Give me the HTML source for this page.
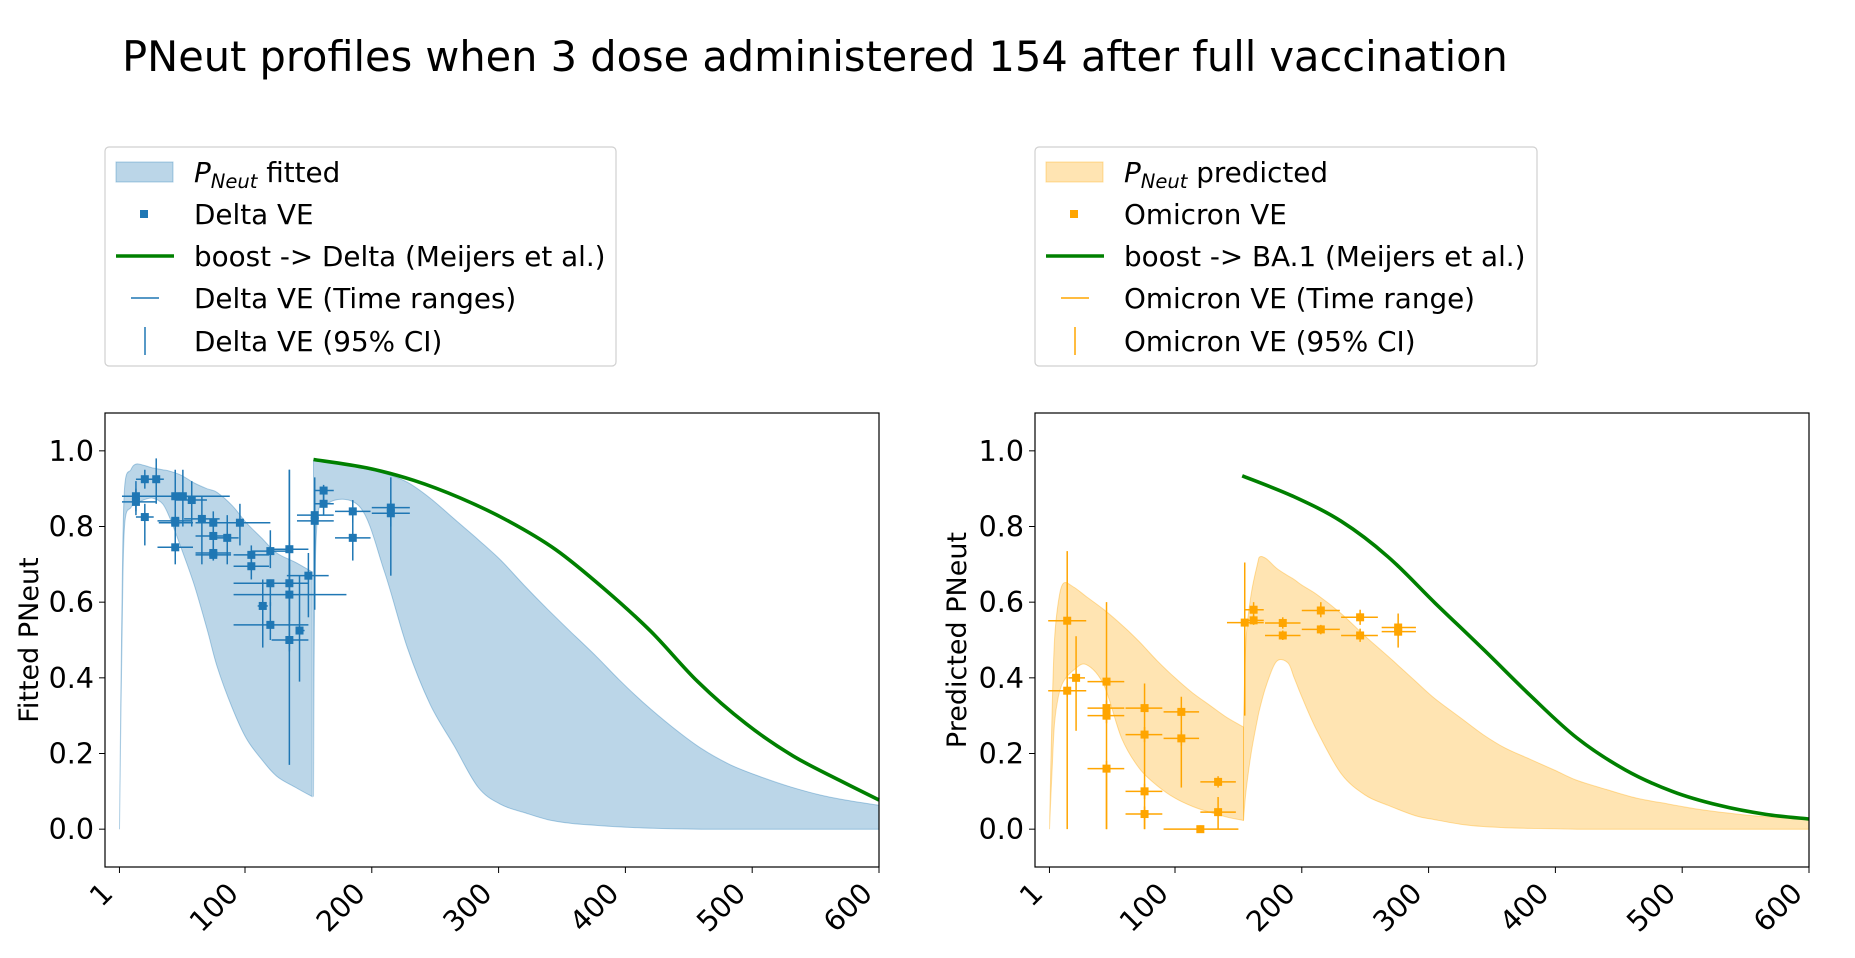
<!DOCTYPE html>
<html><head><meta charset="utf-8"><style>
html,body{margin:0;padding:0;background:#fff;}
svg{display:block;font-family:"DejaVu Sans","Liberation Sans",sans-serif;}
</style></head><body>
<svg id="c" width="1855" height="958" viewBox="0 0 1855 958" xmlns="http://www.w3.org/2000/svg">
<text x="815" y="71" font-size="41.5" text-anchor="middle">PNeut profiles when 3 dose administered 154 after full vaccination</text>
</svg>
<script>
// ---- data ----
const xTicks = [1,100,200,300,400,500,600];
const yTicks = [0.0,0.2,0.4,0.6,0.8,1.0];
// Delta fitted band
const dBand1X = [1,3,5,10,14,20,27,35,41,50,60,70,78,90,101,113,125,140,153];
const dBand1Hi = [0,0.6,0.9,0.95,0.965,0.962,0.955,0.95,0.946,0.935,0.915,0.9,0.89,0.855,0.81,0.77,0.73,0.705,0.68];
const dBand1Lo = [0,0.5,0.8,0.85,0.86,0.87,0.875,0.86,0.82,0.74,0.645,0.53,0.43,0.32,0.24,0.185,0.14,0.11,0.086];
const dBand2X = [154,156,165,191,210,228,246,265,284,302,320,339,358,377,395,414,437,460,483,507,530,554,577,600];
const dBand2Hi = [0.975,0.976,0.972,0.955,0.94,0.917,0.875,0.82,0.765,0.71,0.645,0.58,0.518,0.457,0.395,0.335,0.27,0.213,0.17,0.138,0.112,0.09,0.075,0.063];
const dBand2Lo = [0.086,0.76,0.86,0.85,0.68,0.48,0.33,0.22,0.11,0.065,0.044,0.025,0.015,0.01,0.006,0.003,0.001,0,0,0,0,0,0,0];
const dGreenX = [154,196,233,270,308,345,383,420,457,495,532,569,600];
const dGreenY = [0.977,0.955,0.922,0.875,0.814,0.739,0.636,0.523,0.39,0.279,0.194,0.129,0.077];
// Delta VE points: x, y, x-range, y-range
const dX  = [14,14,21,30,21,45,51,58,45,45,45,66,75,75,75,75,86,96,105,105,120,120,114,120,135,135,135,135,143,150,155,155,162,162,185,185,215,215];
const dY  = [0.88,0.865,0.925,0.925,0.825,0.88,0.88,0.87,0.815,0.81,0.745,0.82,0.81,0.775,0.73,0.725,0.77,0.81,0.725,0.695,0.735,0.65,0.59,0.54,0.74,0.65,0.62,0.50,0.525,0.67,0.83,0.815,0.895,0.86,0.84,0.77,0.85,0.835];
const dXlo= [3,3,14,24,14,35,40,45,31,32,31,52,61,61,61,61,76,70,91,91,105,91,110,91,121,121,91,121,140,133,141,141,155,155,171,171,200,200];
const dXhi= [88,30,28,36,28,55,62,70,58,59,59,80,89,89,89,89,95,120,119,119,135,150,118,150,150,150,180,150,147,166,170,170,170,170,199,199,230,230];
const dYlo= [0.84,0.83,0.90,0.86,0.75,0.81,0.80,0.80,0.76,0.79,0.70,0.70,0.76,0.73,0.71,0.71,0.70,0.75,0.70,0.66,0.69,0.59,0.48,0.50,0.66,0.47,0.55,0.17,0.39,0.56,0.58,0.79,0.87,0.83,0.81,0.71,0.67,0.80];
const dYhi= [0.92,0.90,0.95,0.98,0.86,0.95,0.95,0.92,0.86,0.83,0.80,0.88,0.84,0.81,0.76,0.74,0.83,0.86,0.75,0.72,0.79,0.66,0.66,0.60,0.79,0.95,0.70,0.95,0.67,0.73,0.93,0.84,0.91,0.89,0.87,0.83,0.93,0.87];
// Omicron predicted band
const oBand1X = [1,3,5,8,12,20,30,44,58,72,86,100,114,128,141,154];
const oBand1Hi = [0,0.3,0.5,0.6,0.65,0.64,0.615,0.58,0.54,0.495,0.445,0.40,0.36,0.326,0.295,0.27];
const oBand1Lo = [0,0.15,0.28,0.35,0.39,0.42,0.435,0.38,0.24,0.16,0.115,0.082,0.06,0.044,0.032,0.023];
const oBand2X = [154,156,160,165,167,172,180,189,194,200,212,231,250,268,290,305,325,343,360,380,400,417,440,464,490,510,535,557,580,600];
const oBand2Hi = [0.27,0.5,0.62,0.7,0.72,0.715,0.69,0.67,0.66,0.645,0.62,0.57,0.51,0.457,0.39,0.345,0.295,0.25,0.215,0.185,0.155,0.129,0.105,0.082,0.066,0.054,0.043,0.035,0.03,0.025];
const oBand2Lo = [0.023,0.1,0.2,0.29,0.32,0.38,0.443,0.44,0.4,0.35,0.26,0.147,0.09,0.063,0.035,0.025,0.013,0.007,0.004,0.002,0.001,0,0,0,0,0,0,0,0,0];
const oGreenX = [153,193,231,268,305,343,380,417,455,492,529,566,600];
const oGreenY = [0.934,0.88,0.814,0.72,0.598,0.476,0.354,0.241,0.157,0.1,0.063,0.039,0.027];
const oX  = [15,15,22,46,46,46,46,76,76,76,76,105,105,120,134,134,155,162,162,185,185,215,215,246,246,276,276];
const oY  = [0.551,0.366,0.40,0.39,0.32,0.30,0.16,0.32,0.25,0.10,0.04,0.31,0.24,0.0,0.125,0.045,0.546,0.58,0.552,0.545,0.512,0.578,0.528,0.56,0.512,0.533,0.522];
const oXlo= [0,0,16,31,31,31,31,61,61,61,61,91,91,91,120,120,141,155,155,171,171,200,200,231,231,263,263];
const oXhi= [30,30,29,60,60,60,60,90,90,90,90,119,119,150,148,148,170,170,170,199,199,230,230,260,260,290,290];
const oYlo= [0.0,0.35,0.26,0.0,0.3,0.28,0.0,0.0,0.23,0.08,0.0,0.11,0.22,0.0,0.11,0.0,0.30,0.56,0.54,0.53,0.5,0.56,0.515,0.54,0.495,0.48,0.51];
const oYhi= [0.735,0.38,0.51,0.60,0.34,0.32,0.18,0.385,0.27,0.12,0.06,0.35,0.26,0.01,0.14,0.085,0.705,0.60,0.565,0.56,0.525,0.60,0.54,0.58,0.53,0.57,0.54];

const NS='http://www.w3.org/2000/svg';
const svg=document.getElementById('c');
function mk(tag,attrs,parent){const e=document.createElementNS(NS,tag);for(const k in attrs)e.setAttribute(k,attrs[k]);(parent||svg).appendChild(e);return e;}
function smooth(pts){
  let d='';
  for(let i=0;i<pts.length-1;i++){
    const p0=pts[Math.max(i-1,0)],p1=pts[i],p2=pts[i+1],p3=pts[Math.min(i+2,pts.length-1)];
    const c1=[p1[0]+(p2[0]-p0[0])/6,p1[1]+(p2[1]-p0[1])/6];
    const c2=[p2[0]-(p3[0]-p1[0])/6,p2[1]-(p3[1]-p1[1])/6];
    d+='C'+c1[0].toFixed(1)+','+c1[1].toFixed(1)+' '+c2[0].toFixed(1)+','+c2[1].toFixed(1)+' '+p2[0].toFixed(1)+','+p2[1].toFixed(1);
  }
  return d;
}

function drawPanel(P){
  const X0=P.x0,X1=P.x0+774,Y0=413,Y1=867;
  const xs=v=>X0+(v+10.4)/(610.4)*(X1-X0);
  const ys=v=>Y1-(v+0.1)/1.2*(Y1-Y0);
  const g=mk('g',{});
  
  
  function band(xa,hi,lo,nm){
    const up=xa.map((x,i)=>[xs(x),ys(hi[i])]);
    const dn=xa.map((x,i)=>[xs(x),ys(lo[i])]).reverse();
    const d='M'+up[0][0].toFixed(1)+','+up[0][1].toFixed(1)+smooth(up)+'L'+dn[0][0].toFixed(1)+','+dn[0][1].toFixed(1)+smooth(dn)+'Z';
    const p=mk('path',{d:d,fill:P.fill,'fill-opacity':0.3,stroke:P.fill,'stroke-opacity':0.35,'stroke-width':1},g);
    
    
  }
  band(P.b1x,P.b1h,P.b1l,P.name+'-band-phase1');
  band(P.b2x,P.b2h,P.b2l,P.name+'-band-phase2');
  for(let i=0;i<P.px.length;i++){
    const h=mk('line',{x1:xs(P.xlo[i]),x2:xs(P.xhi[i]),y1:ys(P.py[i]),y2:ys(P.py[i]),stroke:P.col,'stroke-width':1.5},g);
    
    
    const v=mk('line',{x1:xs(P.px[i]),x2:xs(P.px[i]),y1:ys(P.ylo[i]),y2:ys(P.yhi[i]),stroke:P.col,'stroke-width':1.5},g);
    
    
    const r=mk('rect',{x:xs(P.px[i])-4,y:ys(P.py[i])-4,width:8,height:8,fill:P.col},g);
    
    
  }
  const gp=P.gx.map((x,i)=>[xs(x),ys(P.gy[i])]);
  const gl=mk('path',{d:'M'+gp[0][0].toFixed(1)+','+gp[0][1].toFixed(1)+smooth(gp),fill:'none',stroke:'#008000','stroke-width':3.6},g);
  
  
  const fr=mk('rect',{x:X0,y:Y0,width:X1-X0,height:Y1-Y0,fill:'none',stroke:'#000','stroke-width':1.2},g);
  
  
  yTicks.forEach(t=>{
    mk('line',{x1:X0-6,x2:X0,y1:ys(t),y2:ys(t),stroke:'#000','stroke-width':1},g);
    const tx=mk('text',{x:X0-11,y:ys(t)+10,'font-size':28.5,'text-anchor':'end'},g);
    tx.textContent=t.toFixed(1);
    
    
  });
  xTicks.forEach(t=>{
    mk('line',{x1:xs(t),x2:xs(t),y1:Y1,y2:Y1+6,stroke:'#000','stroke-width':1},g);
    const px=xs(t)-5,py=Y1+28;
    const tx=mk('text',{x:px,y:py,'font-size':28.5,'text-anchor':'end',transform:'rotate(-45 '+px+' '+py+')'},g);
    tx.textContent=t;
    
    
  });
  const yl=mk('text',{x:P.ylx,y:(Y0+Y1)/2,'font-size':27,'text-anchor':'middle',transform:'rotate(-90 '+P.ylx+' '+(Y0+Y1)/2+')'},g);
  yl.textContent=P.ylabel;
  
  
  const L=mk('g',{},g);
  
  
  const lx=P.x0, lw=P.lw;
  mk('rect',{x:lx,y:147,width:lw,height:219,rx:4,fill:'#fff',stroke:'#d0d0d0','stroke-width':1.2},L);
  const rowsY=[172,214,256,298,341];
  const hx=lx+11, tx0=lx+89;
  mk('rect',{x:hx,y:rowsY[0]-10,width:57,height:20,fill:P.fill,'fill-opacity':0.3,stroke:P.fill,'stroke-opacity':0.35},L);
  mk('rect',{x:hx+24,y:rowsY[1]-4,width:8,height:8,fill:P.col},L);
  mk('line',{x1:hx,x2:hx+58,y1:rowsY[2],y2:rowsY[2],stroke:'#008000','stroke-width':3.6},L);
  mk('line',{x1:hx+15,x2:hx+43,y1:rowsY[3],y2:rowsY[3],stroke:P.col,'stroke-width':1.5},L);
  mk('line',{x1:hx+29,x2:hx+29,y1:rowsY[4]-14,y2:rowsY[4]+14,stroke:P.col,'stroke-width':1.5},L);
  P.labels.forEach((s,i)=>{
    const t=mk('text',{x:tx0,y:rowsY[i]+10,'font-size':27.8},L);
    if(i===0){
      const a=mk('tspan',{'font-style':'italic'},t);a.textContent='P';
      const b=mk('tspan',{'font-style':'italic','font-size':19.5,dy:6},t);b.textContent='Neut';
      const c=mk('tspan',{dy:-6},t);c.textContent=' '+s;
    } else t.textContent=s;
    
    
  });
}
drawPanel({name:'delta',x0:105,fill:'#1f77b4',col:'#1f77b4',b1x:dBand1X,b1h:dBand1Hi,b1l:dBand1Lo,b2x:dBand2X,b2h:dBand2Hi,b2l:dBand2Lo,gx:dGreenX,gy:dGreenY,px:dX,py:dY,xlo:dXlo,xhi:dXhi,ylo:dYlo,yhi:dYhi,ylx:38,ylabel:'Fitted PNeut',lw:511,labels:['fitted','Delta VE','boost -> Delta (Meijers et al.)','Delta VE (Time ranges)','Delta VE (95% CI)']});
drawPanel({name:'omicron',x0:1035,fill:'#ffa500',col:'#ffa500',b1x:oBand1X,b1h:oBand1Hi,b1l:oBand1Lo,b2x:oBand2X,b2h:oBand2Hi,b2l:oBand2Lo,gx:oGreenX,gy:oGreenY,px:oX,py:oY,xlo:oXlo,xhi:oXhi,ylo:oYlo,yhi:oYhi,ylx:966,ylabel:'Predicted PNeut',lw:502,labels:['predicted','Omicron VE','boost -> BA.1 (Meijers et al.)','Omicron VE (Time range)','Omicron VE (95% CI)']});
</script>
</body></html>
